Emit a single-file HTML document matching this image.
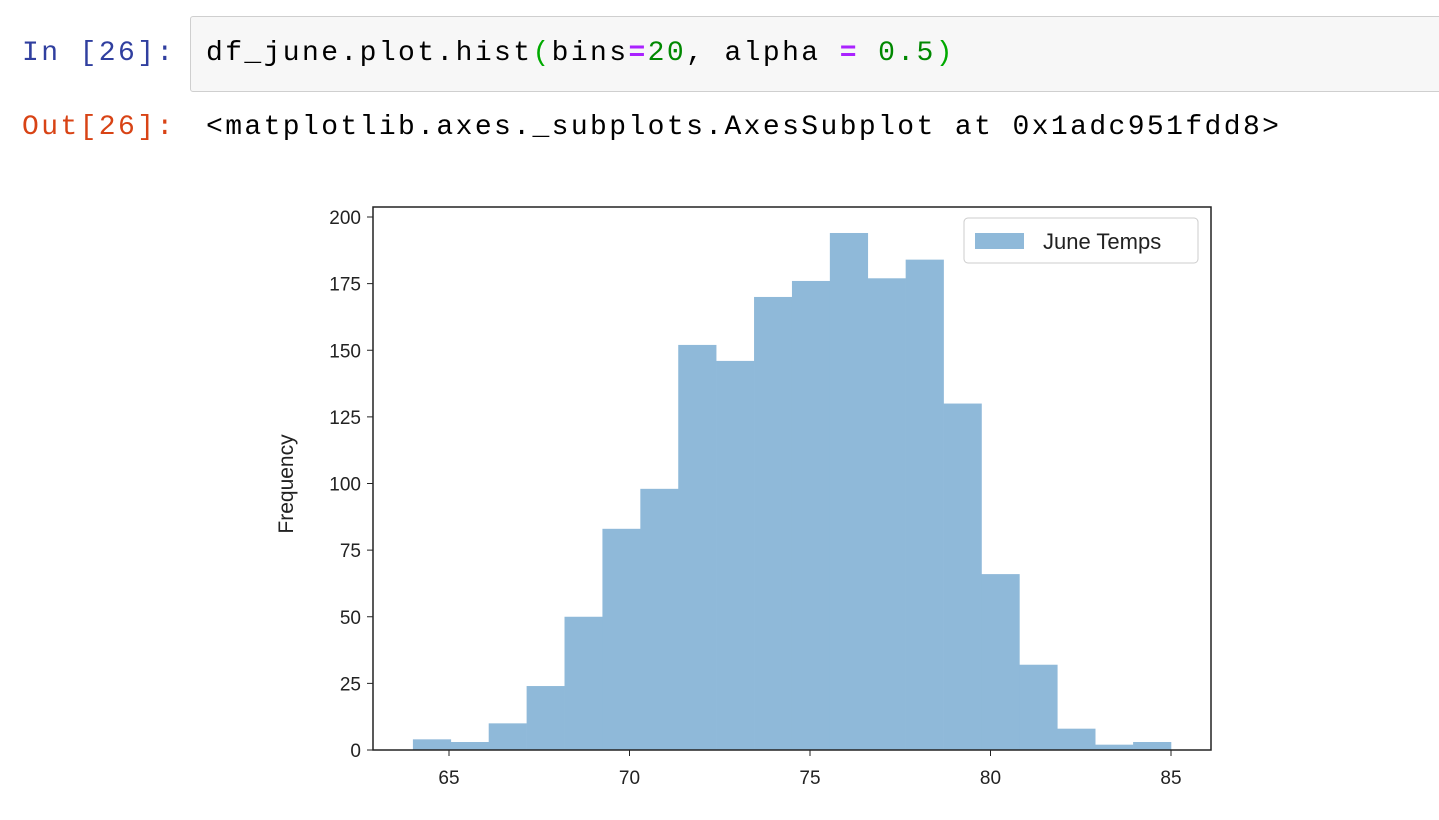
<!DOCTYPE html>
<html><head><meta charset="utf-8"><style>
body{margin:0;width:1439px;height:820px;background:#fff;overflow:hidden;font-family:"Liberation Mono",monospace;}
.p{position:absolute;font-size:28px;letter-spacing:2.4px;white-space:pre;}
</style></head><body>
<div class="p" style="left:22px;top:38px;color:#303f9f">In [26]:</div>
<div style="position:absolute;left:190px;top:16px;width:1260px;height:74px;background:#f7f7f7;border:1px solid #cfcfcf;border-radius:3px"></div>
<div class="p" style="left:206px;top:38px;color:#000">df_june.plot.hist<span style="color:#0a0">(</span>bins<span style="color:#a2f;font-weight:bold">=</span><span style="color:#080">20</span>, alpha <span style="color:#a2f;font-weight:bold">=</span> <span style="color:#080">0.5</span><span style="color:#0a0">)</span></div>
<div class="p" style="left:22px;top:112px;color:#d84315">Out[26]:</div>
<div class="p" style="left:206px;top:112px;color:#000">&lt;matplotlib.axes._subplots.AxesSubplot at 0x1adc951fdd8&gt;</div>
<svg id="c" width="1439" height="820" style="position:absolute;left:0;top:0" font-family="Liberation Sans, sans-serif"></svg>
<script>
const binStart = 64;
const binWidth = 1.05;
const counts = [4,3,10,24,50,83,98,152,146,170,176,194,177,184,130,66,32,8,2,3];
const xTicks = [65,70,75,80,85];
const yTicks = [0,25,50,75,100,125,150,175,200];
const L=373,R=1211,T=207,B=750;
const sx=v=>449+(v-65)*36.1;
const sy=v=>B-v*(B-217)/200;
const svg=document.getElementById('c');
const NS='http://www.w3.org/2000/svg';
function mk(t,a){const e=document.createElementNS(NS,t);for(const k in a)e.setAttribute(k,a[k]);svg.appendChild(e);return e;}
counts.forEach((c,i)=>{
 const x0=sx(binStart+i*binWidth),x1=sx(binStart+(i+1)*binWidth);
 const r=mk('rect',{x:x0,y:sy(c),width:x1-x0+0.3,height:B-sy(c),fill:'#8fb9d9'});
 
 
});
const box=mk('rect',{x:L,y:T,width:R-L,height:B-T,fill:'none',stroke:'#222','stroke-width':1.5});


xTicks.forEach(v=>{
 mk('line',{x1:sx(v),x2:sx(v),y1:B,y2:B+6,stroke:'#222'});
 const t=mk('text',{x:sx(v),y:B+34,'font-size':19,'text-anchor':'middle',fill:'#222'});
 t.textContent=v;
 
 
});
yTicks.forEach(v=>{
 mk('line',{x1:L-6,x2:L,y1:sy(v),y2:sy(v),stroke:'#222'});
 const t=mk('text',{x:L-12,y:sy(v)+7,'font-size':19,'text-anchor':'end',fill:'#222'});
 t.textContent=v;
 
 
});
const yl=mk('text',{x:0,y:0,'font-size':21,'text-anchor':'middle',fill:'#222',transform:'translate(293,484) rotate(-90)'});
yl.textContent='Frequency';


const lg=mk('rect',{x:964,y:218,width:234,height:45,rx:4,fill:'#fff',stroke:'#ccc'});


mk('rect',{x:975,y:233,width:49,height:16,fill:'#8fb9d9'});
const lt=mk('text',{x:1043,y:249,'font-size':22,fill:'#222'});
lt.textContent='June Temps';


</script>
</body></html>
